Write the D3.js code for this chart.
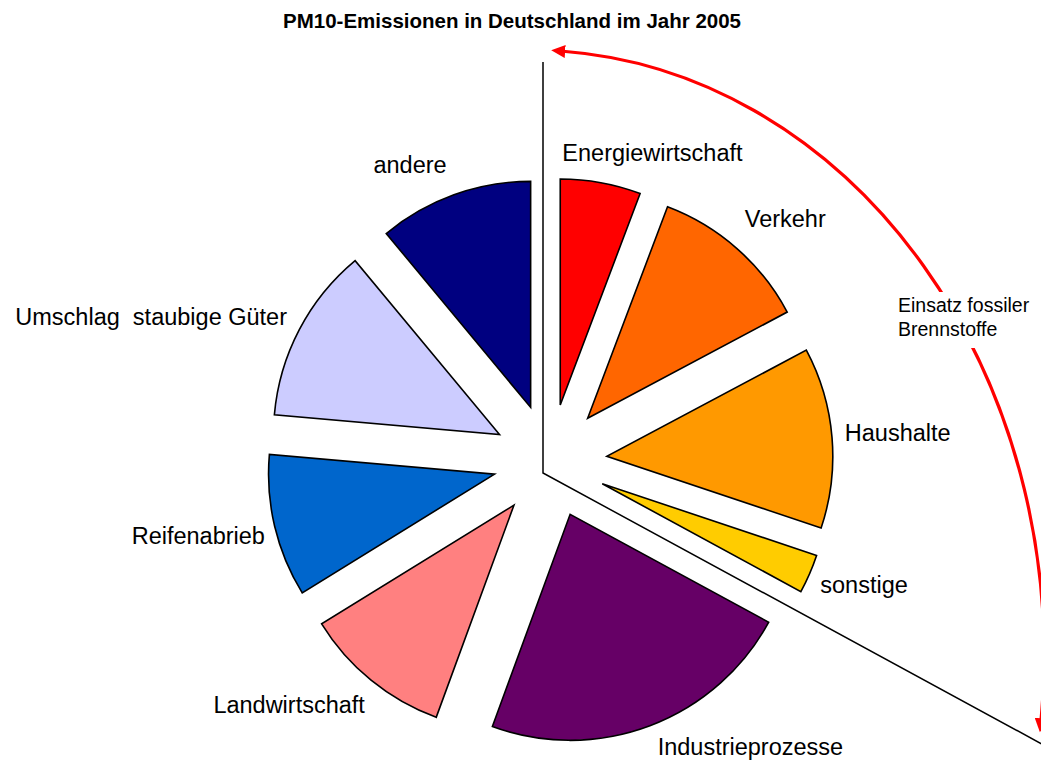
<!DOCTYPE html>
<meta charset="utf-8">
<style>
body { margin: 0; background: #fff; }
text { font-family: "Liberation Sans", Arial, sans-serif; fill: #000; }
.title { font-weight: bold; font-size: 20.5px; }
.label { font-size: 23.5px; white-space: pre; }
.note { font-size: 19.5px; }
.slice { stroke: #000; stroke-width: 1.6px; stroke-linejoin: miter; }
</style>
<body>
<script src="https://d3js.org/d3.v7.min.js"></script>
<script>

// PM10 sources, share of total emissions in percent
var categories = ["Energiewirtschaft", "Verkehr", "Haushalte", "sonstige",
                  "Industrieprozesse", "Landwirtschaft", "Reifenabrieb",
                  "Umschlag  staubige Güter", "andere"];
var shares = [5.75, 11.47, 12.92, 2.78, 22.67, 10.61, 10.19, 12.58, 11.03];
var sliceColors = ["#ff0000", "#ff6600", "#ff9900", "#ffcc00", "#660066",
                   "#ff8080", "#0066cc", "#ccccff", "#000080"];
// slices that are grouped by the bracket
var fossil = ["Energiewirtschaft", "Verkehr", "Haushalte", "sonstige"];
var noteLines = ["Einsatz fossiler", "Brennstoffe"];
var title = "PM10-Emissionen in Deutschland im Jahr 2005";

var width = 1041, height = 764;
var cx = 550, cy = 461,
    radius = 226,
    explode = 57,
    labelGap = 19;

// labels were dragged by hand in the original, small nudges from the default spot
var labelNudge = {
  "Energiewirtschaft": [32, -3], "Verkehr": [9, -9], "Haushalte": [-6, -3],
  "sonstige": [-3, 0], "Industrieprozesse": [61, -5], "Landwirtschaft": [-22, 3],
  "Reifenabrieb": [7, 3], "Umschlag  staubige Güter": [-11, 0], "andere": [-25, -4]
};

var svg = d3.select("body").append("svg")
    .attr("width", width)
    .attr("height", height);

svg.append("text")
    .attr("class", "title")
    .attr("x", 512)
    .attr("y", 28)
    .attr("text-anchor", "middle")
    .text(title);

var data = categories.map(function(c, i) { return {name: c, value: shares[i], color: sliceColors[i]}; });

var pie = d3.pie()
    .sort(null)
    .value(function(d) { return d.value; });

var arcs = pie(data);

var arc = d3.arc()
    .innerRadius(0)
    .outerRadius(radius);

function mid(d) { return (d.startAngle + d.endAngle) / 2; }

var g = svg.append("g")
    .attr("transform", "translate(" + cx + "," + cy + ")");

g.selectAll(".slice")
  .data(arcs)
  .enter().append("path")
    .attr("class", "slice")
    .attr("fill", function(d) { return d.data.color; })
    .attr("transform", function(d) {
      var m = mid(d);
      return "translate(" + (Math.sin(m) * explode) + "," + (-Math.cos(m) * explode) + ")";
    })
    .attr("d", arc);

// labels: outside end of each slice, box pushed away along the mid angle
var capH = 0.716 * 23.5;
g.selectAll(".label")
  .data(arcs)
  .enter().append("text")
    .attr("class", "label")
    .attr("text-anchor", "middle")
    .text(function(d) { return d.data.name; })
    .each(function(d) {
      var m = mid(d), s = Math.sin(m), c = -Math.cos(m);
      var w = this.getComputedTextLength();
      var rr = explode + radius + labelGap;
      var nx = labelNudge[d.data.name] || [0, 0];
      var x = s * rr + s * w / 2 + nx[0];
      var y = c * rr + c * capH / 2 + capH / 2 + nx[1];
      d3.select(this).attr("x", x).attr("y", y);
    });

// bracket lines around the fossil-fuel group
var fossilArcs = arcs.filter(function(d) { return fossil.indexOf(d.data.name) >= 0; });
var groupEnd = d3.max(fossilArcs, function(d) { return d.endAngle; });
var ox = -7, oy = 12;
svg.append("path")
    .attr("transform", "translate(" + cx + "," + cy + ")")
    .attr("fill", "none")
    .attr("stroke", "#000")
    .attr("stroke-width", 1.5)
    .attr("d", "M" + ox + "," + (oy - 411) + "L" + ox + "," + oy +
               "L" + (ox + Math.sin(groupEnd) * 568) + "," + (oy - Math.cos(groupEnd) * 568));

// red double arrow
var defs = svg.append("defs");
defs.append("marker")
    .attr("id", "arrow")
    .attr("markerUnits", "userSpaceOnUse")
    .attr("markerWidth", 15)
    .attr("markerHeight", 13)
    .attr("refX", 2)
    .attr("refY", 6.5)
    .attr("orient", "auto-start-reverse")
  .append("path")
    .attr("d", "M0,0L14,6.5L0,13z")
    .attr("fill", "#ff0000");

var ex = 530, ey = 655, erx = 514, ery = 605;
var t0 = -86.3 * Math.PI / 180, t1 = 6.2 * Math.PI / 180;
function ept(t) { return [ex + erx * Math.cos(t), ey + ery * Math.sin(t)]; }
var p0 = ept(t0), p1 = ept(t1);
svg.append("path")
    .attr("fill", "none")
    .attr("stroke", "#ff0000")
    .attr("stroke-width", 3.2)
    .attr("marker-start", "url(#arrow)")
    .attr("marker-end", "url(#arrow)")
    .attr("d", "M" + p0[0] + "," + p0[1] + "A" + erx + "," + ery + " 0 0 1 " + p1[0] + "," + p1[1]);

// note text with a white box over the arrow
var note = svg.append("g");
note.append("rect")
    .attr("x", 892).attr("y", 292)
    .attr("width", 150).attr("height", 56)
    .attr("fill", "#fff");
note.selectAll("text")
  .data(noteLines)
  .enter().append("text")
    .attr("class", "note")
    .attr("x", 898)
    .attr("y", function(d, i) { return 312 + i * 24; })
    .text(function(d) { return d; });

</script>
</body>
